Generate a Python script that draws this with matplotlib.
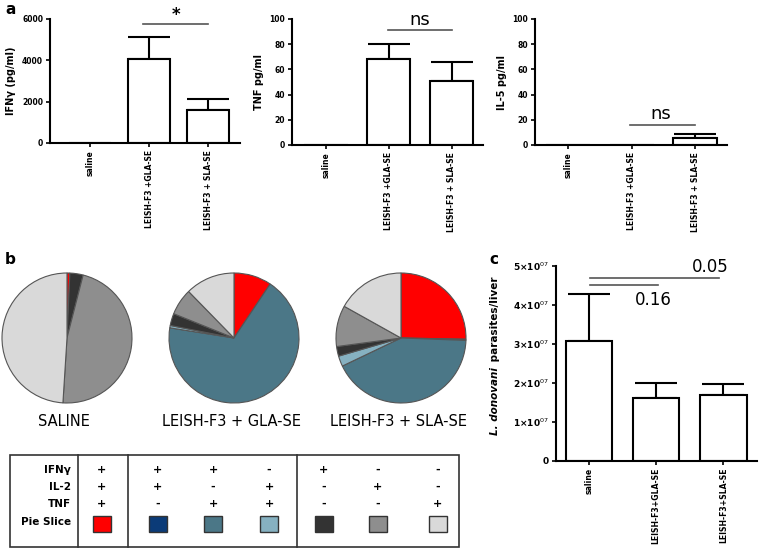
import matplotlib
matplotlib.use("Agg")
import matplotlib.pyplot as plt
from matplotlib.patches import Rectangle

W, H = 759, 553
plt.rcParams['font.family'] = ['DejaVu Sans']

# ---------------- data ----------------
groups_a = ["saline", "LEISH-F3 +GLA-SE", "LEISH-F3 + SLA-SE"]
ifng = [0, 4050, 1620]
ifng_err = [0, 1100, 530]
tnf = [0, 68, 51]
tnf_err = [0, 12.5, 15]
il5 = [0, 0, 5.5]
il5_err = [0, 0, 3]

pie_titles = ["SALINE", "LEISH-F3 + GLA-SE", "LEISH-F3 + SLA-SE"]
slice_colors = ["#ff0000", "#0b3b78", "#4b7787", "#86b1c1", "#333333", "#8e8e8e", "#d9d9d9"]
pie_saline = [0.7, 0, 0, 0, 3.3, 47.0, 49.0]
pie_gla = [9.4, 0, 68.1, 0.6, 3.0, 6.6, 12.3]
pie_sla = [25.3, 0.3, 42.3, 2.6, 2.4, 10.2, 16.9]

table_rows = ["IFNγ", "IL-2", "TNF", "Pie Slice"]
table_ifng = ["+", "+", "+", "-", "+", "-", "-"]
table_il2 = ["+", "+", "-", "+", "-", "+", "-"]
table_tnf = ["+", "-", "+", "+", "-", "-", "+"]

groups_c = ["saline", "LEISH-F3+GLA-SE", "LEISH-F3+SLA-SE"]
parasites = [3.08e7, 1.62e7, 1.70e7]
parasites_err = [1.2e7, 0.38e7, 0.28e7]
yticks_c = [0, 1e7, 2e7, 3e7, 4e7, 5e7]
yticklabels_c = ["0", r"1×10$^{07}$", r"2×10$^{07}$", r"3×10$^{07}$", r"4×10$^{07}$", r"5×10$^{07}$"]

fig = plt.figure(figsize=(W / 100, H / 100), dpi=100)


def px_axes(x0, y0, x1, y1, **kw):
    return fig.add_axes([x0 / W, 1 - y1 / H, (x1 - x0) / W, (y1 - y0) / H], **kw)


def bar_panel(ax, vals, errs, labels, width, xlim, ylim, yticks, ylabel, fs_tick=5.5, fs_x=5.5):
    x = list(range(len(vals)))
    ax.bar(x, vals, width=width, color="white", edgecolor="black", linewidth=1.5, zorder=2)
    for xi, v, e in zip(x, vals, errs):
        if e > 0:
            ax.errorbar([xi], [v], yerr=[[0], [e]], fmt="none", ecolor="black",
                        elinewidth=1.5, capsize=15, capthick=1.5, zorder=1)
    ax.set_xlim(*xlim)
    ax.set_ylim(*ylim)
    ax.set_yticks(yticks)
    ax.set_xticks(x)
    ax.set_xticklabels(labels, rotation=90, fontsize=fs_x, fontweight="bold")
    for t in ax.get_yticklabels():
        t.set_fontsize(fs_tick)
        t.set_fontweight("bold")
    for s in ["top", "right"]:
        ax.spines[s].set_visible(False)
    for s in ["left", "bottom"]:
        ax.spines[s].set_linewidth(1.5)
    ax.tick_params(width=1.2, length=3, pad=2)
    if ylabel:
        ax.set_ylabel(ylabel, fontsize=7, fontweight="bold", labelpad=4)


# ---------------- panel a ----------------
ax1 = px_axes(50, 19, 240, 143)
bar_panel(ax1, ifng, ifng_err, groups_a, 0.72, (-0.68, 2.54), (0, 6000), [0, 2000, 4000, 6000], "IFNγ (pg/ml)")
ax1.plot([0.9, 1.99], [5760, 5760], color="#555555", lw=1.2, clip_on=False)
ax1.text(1.45, 5750, "*", ha="center", va="bottom", fontsize=12, fontweight="bold")

ax2 = px_axes(292, 19, 483, 145)
bar_panel(ax2, tnf, tnf_err, groups_a, 0.69, (-0.54, 2.5), (0, 100), [0, 20, 40, 60, 80, 100], "TNF pg/ml")
ax2.plot([0.98, 2.0], [91, 91], color="#555555", lw=1.2, clip_on=False)
ax2.text(1.5, 92, "ns", ha="center", va="bottom", fontsize=13)

ax3 = px_axes(535, 19, 727, 145)
bar_panel(ax3, il5, il5_err, groups_a, 0.69, (-0.52, 2.5), (0, 100), [0, 20, 40, 60, 80, 100], "IL-5 pg/ml")
ax3.plot([0.98, 1.99], [16, 16], color="#555555", lw=1.2, clip_on=False)
ax3.text(1.46, 17.5, "ns", ha="center", va="bottom", fontsize=13)

fig.text(5 / W, 1 - 10 / H, "a", fontsize=11, fontweight="bold", va="center")

# ---------------- panel b ----------------
pie_centers = [67, 234, 401]
for cx, vals, title in zip(pie_centers, [pie_saline, pie_gla, pie_sla], pie_titles):
    r = 65
    ax = px_axes(cx - r - 3, 338 - r - 3, cx + r + 3, 338 + r + 3)
    v = [a for a in vals if a > 0]
    c = [col for a, col in zip(vals, slice_colors) if a > 0]
    ax.pie(v, colors=c, startangle=90, counterclock=False, radius=1,
           wedgeprops=dict(edgecolor="#555555", linewidth=0.8))
    lim = (r + 3) / r
    ax.set_xlim(-lim, lim)
    ax.set_ylim(-lim, lim)
    ax.set_aspect("equal")
    ax.axis("off")
    fig.text((cx - 3) / W, 1 - 422 / H, title, ha="center", va="center", fontsize=10.5)

fig.text(5 / W, 1 - 260 / H, "b", fontsize=11, fontweight="bold", va="center")

# table
tax = fig.add_axes([0, 0, 1, 1])
tax.set_xlim(0, W)
tax.set_ylim(H, 0)
tax.axis("off")
tax.add_patch(Rectangle((10, 455), 449, 92, fill=False, edgecolor="#333333", lw=1.2))
for xv in [78, 128, 297]:
    tax.plot([xv, xv], [455, 547], color="#333333", lw=1.2)
row_y = [470, 487, 504, 522]
for ry, lab in zip(row_y, table_rows):
    tax.text(71, ry, lab, ha="right", va="center", fontsize=7.5, fontweight="bold")
col_x = [102, 158, 213, 269, 324, 378, 438]
for j, cx in enumerate(col_x):
    for ry, col in zip(row_y[:3], [table_ifng, table_il2, table_tnf]):
        tax.text(cx, ry, col[j], ha="center", va="center", fontsize=8, fontweight="bold")
    tax.add_patch(Rectangle((cx - 9, 517 - 1), 18, 16, facecolor=slice_colors[j],
                            edgecolor="#333333", lw=1.0))

# ---------------- panel c ----------------
axc = px_axes(556, 266, 757, 461)
bar_panel(axc, parasites, parasites_err, groups_c, 0.69, (-0.49, 2.5), (0, 5e7), yticks_c, None,
          fs_tick=6.5, fs_x=5.6)
axc.set_yticklabels(yticklabels_c, fontsize=6.5, fontweight="bold")
axc.plot([0.02, 1.94], [4.69e7, 4.69e7], color="#555555", lw=1.2, clip_on=False)
axc.plot([0.02, 1.03], [4.51e7, 4.51e7], color="#555555", lw=1.2, clip_on=False)
axc.text(1.8, 4.75e7, "0.05", ha="center", va="bottom", fontsize=12)
axc.text(0.96, 4.13e7, "0.16", ha="center", va="center", fontsize=12)

fig.text(489 / W, 1 - 260 / H, "c", fontsize=11, fontweight="bold", va="center")

# y label with italic species name
t1 = fig.text(495 / W, 1 - 435 / H, "L. donovani", rotation=90, ha="center", va="bottom",
              fontsize=7.5, fontweight="bold", fontstyle="italic")
fig.canvas.draw()
bb = t1.get_window_extent()
fig.text(495 / W, (bb.y1 + 2) / H, " parasites/liver", rotation=90, ha="center", va="bottom",
         fontsize=7.5, fontweight="bold")

fig.savefig("out.png", dpi=100)
